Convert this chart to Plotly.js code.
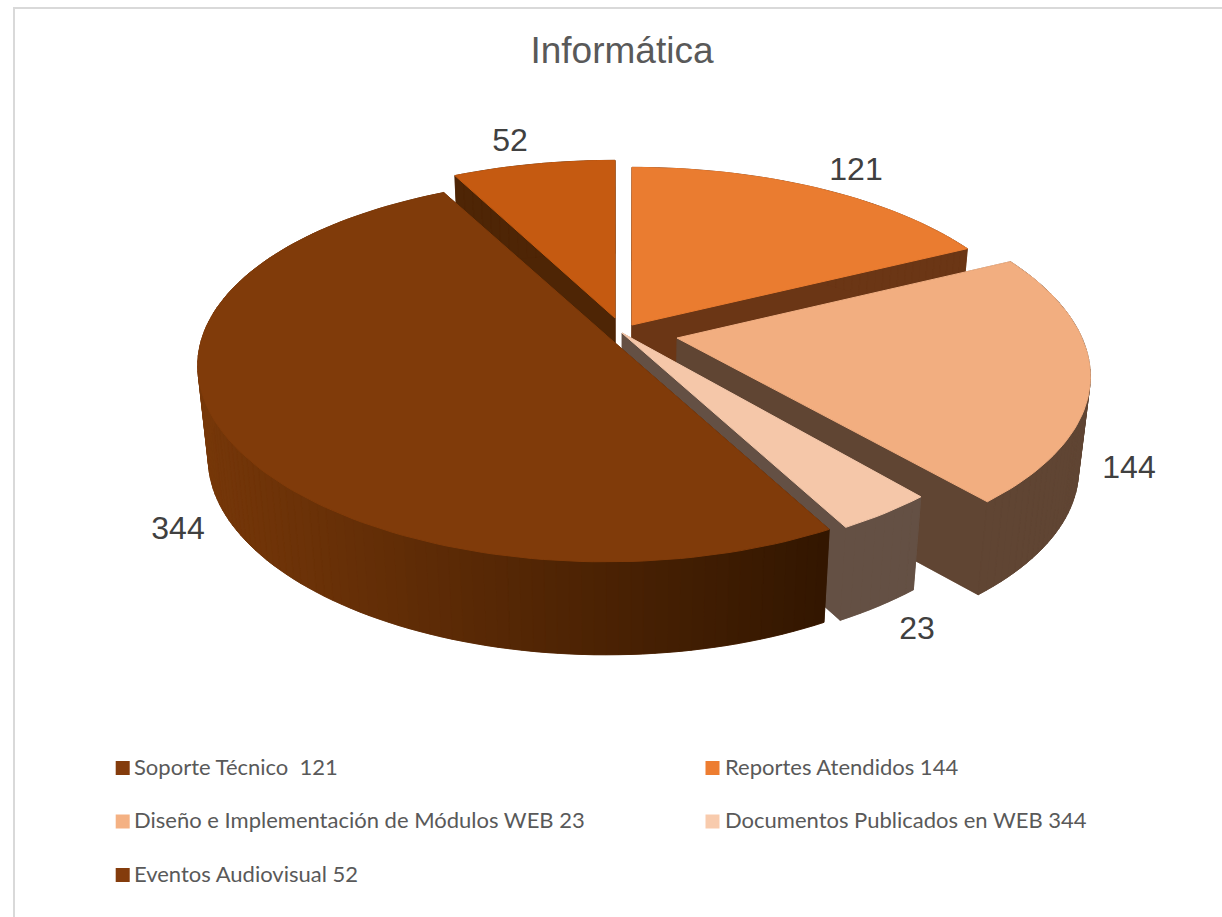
<!DOCTYPE html>
<html><head><meta charset="utf-8">
<script src="https://cdn.plot.ly/plotly-3.0.1.min.js"></script>
<style>html,body{margin:0;padding:0;background:#fff}#c{width:1222px;height:917px}</style>
</head><body><div id="c"></div>
<script>
// ---- data ----
const chartTitle = "Informática";
const sliceValues = [121, 144, 23, 344, 52];
const legendLabels = ["Soporte Técnico  121", "Reportes Atendidos 144", "Diseño e Implementación de Módulos WEB 23", "Documentos Publicados en WEB 344", "Eventos Audiovisual 52"];

// ---- styles and placement ----
const topColors = ["#EA7C30", "#F2AE80", "#F5C7A9", "#803B0A", "#C55A11"];
const wallColors = ["#6B3615", "#604533", "#645044", null, "#4E2505"];
const legendColors = ["#843C0C", "#ED7D31", "#F4B183", "#F8CBAD", "#843C0C"];
const apexX = [632, 677, 622, 606, 615];
const apexY = [325, 338, 333, 335, 318];
const radiusX = [404, 405, 404, 403, 404];
const perspectiveX = [0.18, 0.20, 0.16, 0.16, 0.18];
const paintOrder = [4, 0, 1, 2, 3];
const labelX = [856, 1129, 917, 178, 510];
const labelY = [172, 470, 631, 531, 143];
const legendMarkX = [122.7, 712.5, 122.7, 712.5, 122.7];
const legendTextX = [134, 725, 134, 725, 134];
const legendRowY = [768, 768, 821.5, 821.5, 875];

const B = 186, P = 0.18, DEPTH = 93, SHRINK = 0.025, VX = 620;
const total = sliceValues.reduce((a, b) => a + b, 0);
const project = (i, deg) => {
  const t = deg * Math.PI / 180, X = Math.sin(t), Y = Math.cos(t);
  return [apexX[i] + radiusX[i] * X / (1 + perspectiveX[i] * Y), apexY[i] - B * Y / (1 + P * Y)];
};
const drop = p => [p[0] + (VX - p[0]) * SHRINK, p[1] + DEPTH];
const poly = (pts, color, w) => ({
  type: "scatter", mode: "lines", x: pts.map(p => p[0]).concat(pts[0][0]), y: pts.map(p => p[1]).concat(pts[0][1]),
  fill: "toself", fillcolor: color, line: {color: color, width: w}, hoverinfo: "skip", showlegend: false
});
const mix = (a, b, f) => "rgb(" + a.map((v, i) => Math.round(v + (b[i] - v) * f)).join(",") + ")";
const darkLeft = [118, 55, 9], darkRight = [50, 22, 0];

const startAngle = [];
sliceValues.reduce((acc, v, i) => { startAngle[i] = acc; return acc + v / total * 360; }, 0);

const traces = [];
paintOrder.forEach(i => {
  const start = startAngle[i], end = start + sliceValues[i] / total * 360;
  const arc = [];
  const n = Math.max(4, Math.round((end - start) / 1.5));
  for (let k = 0; k <= n; k++) arc.push(project(i, start + (end - start) * k / n));
  const apex = [apexX[i], apexY[i]];
  const wallAt = x => wallColors[i] || mix(darkLeft, darkRight, Math.min(1, Math.max(0, (x - 200) / 630)));
  traces.push(poly([drop(apex)].concat(arc.map(drop)), wallAt(400), 0.5));
  [arc[0], arc[n]].forEach(e => traces.push(poly([apex, e, drop(e), drop(apex)], wallAt(e[0]), 0.5)));
  for (let k = 0; k < n; k++) {
    const a = arc[k], b = arc[k + 1];
    traces.push(poly([a, b, drop(b), drop(a)], wallAt((a[0] + b[0]) / 2), 0.8));
  }
  traces.push(poly([apex].concat(arc), topColors[i], 1));
});

traces.push({
  type: "scatter", mode: "text", x: labelX, y: labelY, text: sliceValues.map(String),
  textposition: "middle center", textfont: {family: "Liberation Sans", size: 32, color: "#404040"},
  hoverinfo: "skip", showlegend: false
});
traces.push({
  type: "scatter", mode: "markers", x: legendMarkX, y: legendRowY,
  marker: {symbol: "square", size: 14, color: legendColors, line: {width: 0}},
  hoverinfo: "skip", showlegend: false
});
traces.push({
  type: "scatter", mode: "text", x: legendTextX, y: legendRowY.map(y => y + 1), text: legendLabels,
  textposition: "middle right", textfont: {family: "Lato", size: 22, color: "#595959"},
  hoverinfo: "skip", showlegend: false
});

const layout = {
  width: 1222, height: 917, margin: {l: 0, r: 0, t: 0, b: 0, pad: 0},
  paper_bgcolor: "#fff", plot_bgcolor: "#fff", showlegend: false,
  title: {text: chartTitle, x: 0.509, xanchor: "center", y: 0.945, yanchor: "middle",
          font: {family: "Liberation Sans", size: 37, color: "#595959"}},
  xaxis: {range: [0, 1222], visible: false, fixedrange: true},
  yaxis: {range: [917, 0], visible: false, fixedrange: true},
  shapes: [{type: "rect", xref: "x", yref: "y", x0: 14, y0: 8, x1: 1260, y1: 960,
            line: {color: "#D9D9D9", width: 2}, fillcolor: "rgba(0,0,0,0)", layer: "below"}]
};
Plotly.newPlot("c", traces, layout, {displayModeBar: false, staticPlot: true});
</script></body></html>
